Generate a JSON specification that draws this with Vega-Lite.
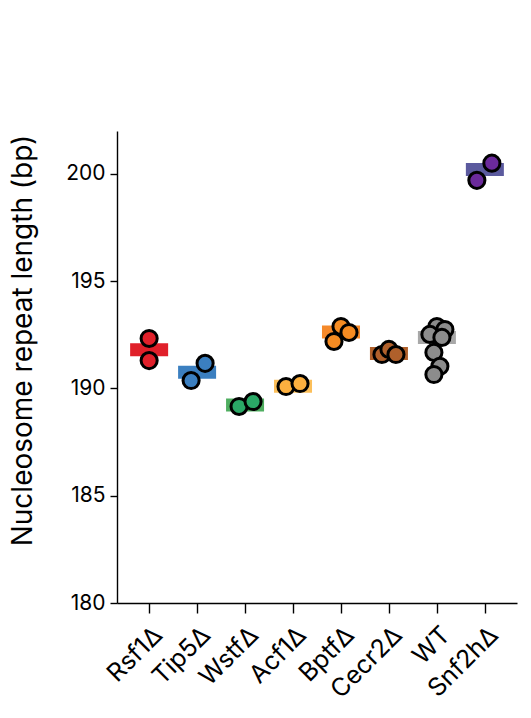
{
  "$schema": "https://vega.github.io/schema/vega-lite/v6.json",
  "autosize": "none",
  "width": 400,
  "height": 472,
  "padding": {"left": 117, "top": 131, "right": 14, "bottom": 115},
  "background": "white",
  "datasets": {
    "means": [
      {"strain": "Rsf1Δ", "nrl": 191.8},
      {"strain": "Tip5Δ", "nrl": 190.75},
      {"strain": "WstfΔ", "nrl": 189.23},
      {"strain": "Acf1Δ", "nrl": 190.1},
      {"strain": "BptfΔ", "nrl": 192.63},
      {"strain": "Cecr2Δ", "nrl": 191.63},
      {"strain": "WT", "nrl": 192.38},
      {"strain": "Snf2hΔ", "nrl": 200.2}
    ],
    "reps": [
      {"strain": "Rsf1Δ", "jitter": 0, "nrl": 192.33},
      {"strain": "Rsf1Δ", "jitter": 0, "nrl": 191.3},
      {"strain": "Tip5Δ", "jitter": -6, "nrl": 190.37},
      {"strain": "Tip5Δ", "jitter": 8, "nrl": 191.17},
      {"strain": "WstfΔ", "jitter": -6, "nrl": 189.16},
      {"strain": "WstfΔ", "jitter": 8, "nrl": 189.39},
      {"strain": "Acf1Δ", "jitter": -7, "nrl": 190.09},
      {"strain": "Acf1Δ", "jitter": 7, "nrl": 190.23},
      {"strain": "BptfΔ", "jitter": 0, "nrl": 192.89},
      {"strain": "BptfΔ", "jitter": 8, "nrl": 192.61},
      {"strain": "BptfΔ", "jitter": -7, "nrl": 192.19},
      {"strain": "Cecr2Δ", "jitter": -7, "nrl": 191.58},
      {"strain": "Cecr2Δ", "jitter": 0, "nrl": 191.82},
      {"strain": "Cecr2Δ", "jitter": 7, "nrl": 191.58},
      {"strain": "WT", "jitter": 0, "nrl": 192.89},
      {"strain": "WT", "jitter": 8, "nrl": 192.75},
      {"strain": "WT", "jitter": -7, "nrl": 192.52},
      {"strain": "WT", "jitter": 5, "nrl": 192.38},
      {"strain": "WT", "jitter": -3, "nrl": 191.68},
      {"strain": "WT", "jitter": 3, "nrl": 191.03},
      {"strain": "WT", "jitter": -3, "nrl": 190.65},
      {"strain": "Snf2hΔ", "jitter": 7, "nrl": 200.5},
      {"strain": "Snf2hΔ", "jitter": -8, "nrl": 199.7}
    ]
  },
  "encoding": {
    "x": {
      "field": "strain",
      "type": "nominal",
      "sort": ["Rsf1Δ", "Tip5Δ", "WstfΔ", "Acf1Δ", "BptfΔ", "Cecr2Δ", "WT", "Snf2hΔ"],
      "scale": {"type": "point", "padding": 0.67},
      "axis": {
        "title": null,
        "labelAngle": -45,
        "labelAlign": "right",
        "labelBaseline": "top",
        "labelPadding": 9,
        "labelFontSize": 25,
        "tickSize": 10
      }
    },
    "y": {
      "field": "nrl",
      "type": "quantitative",
      "scale": {"domain": [180, 202], "nice": false, "zero": false},
      "axis": {
        "title": "Nucleosome repeat length (bp)",
        "values": [180, 185, 190, 195, 200],
        "tickSize": 7,
        "labelPadding": 5,
        "labelFontSize": 21,
        "titleFontSize": 28,
        "titlePadding": 28,
        "titleY": 209
      }
    }
  },
  "layer": [
    {
      "data": {"name": "means"},
      "mark": {"type": "tick", "size": 38, "thickness": 13, "opacity": 1},
      "encoding": {
        "color": {
          "field": "strain",
          "type": "nominal",
          "legend": null,
          "scale": {
            "domain": ["Rsf1Δ", "Tip5Δ", "WstfΔ", "Acf1Δ", "BptfΔ", "Cecr2Δ", "WT", "Snf2hΔ"],
            "range": ["#e0202a", "#3b7fc0", "#4fae60", "#fcbf5a", "#f5892a", "#b0602b", "#a8a8a8", "#5b5a9e"]
          }
        }
      }
    },
    {
      "data": {"name": "reps"},
      "mark": {"type": "circle", "size": 260, "opacity": 1, "stroke": "black", "strokeWidth": 3},
      "encoding": {
        "xOffset": {
          "field": "jitter",
          "type": "quantitative",
          "scale": {"domain": [-10, 10], "range": [-10, 10]}
        },
        "fill": {
          "field": "strain",
          "type": "nominal",
          "legend": null,
          "scale": {
            "domain": ["Rsf1Δ", "Tip5Δ", "WstfΔ", "Acf1Δ", "BptfΔ", "Cecr2Δ", "WT", "Snf2hΔ"],
            "range": ["#e0202a", "#3b7fc0", "#2aa866", "#fdb03f", "#f58b22", "#b0602b", "#8c8c8c", "#6b2a9b"]
          }
        }
      }
    }
  ],
  "resolve": {"scale": {"color": "independent", "fill": "independent"}},
  "config": {
    "view": {"stroke": null},
    "font": "Inter",
    "axis": {
      "grid": false,
      "domainColor": "black",
      "domainWidth": 1.4,
      "tickColor": "black",
      "tickWidth": 1.4,
      "labelColor": "black",
      "titleColor": "black",
      "labelFont": "Inter",
      "titleFont": "Inter",
      "titleFontWeight": "normal"
    }
  }
}
